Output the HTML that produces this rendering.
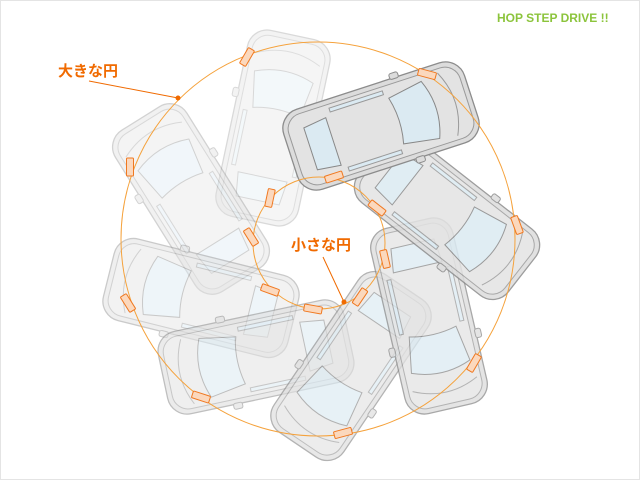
<!DOCTYPE html>
<html><head><meta charset="utf-8"><style>
html,body{margin:0;padding:0;background:#fff;}
#w{position:relative;width:640px;height:480px;overflow:hidden;box-sizing:border-box;border:1px solid #e4e4e4;}
svg{position:absolute;left:0;top:0;}
.t{position:absolute;font-family:"Liberation Sans","Noto Sans CJK JP",sans-serif;font-weight:bold;}
</style></head><body><div id="w">
<svg width="640" height="480" viewBox="0 0 640 480">
<defs>
<g id="car">
 <rect x="-42" y="-95" width="84" height="190" rx="20" fill="#dcdcdc" stroke="#8c8c8c" stroke-width="1.3"/>
 <rect x="-47" y="-32" width="6" height="9" rx="2" fill="#dcdcdc" stroke="#8c8c8c"/>
 <rect x="41" y="-32" width="6" height="9" rx="2" fill="#dcdcdc" stroke="#8c8c8c"/>
 <rect x="-37" y="-90" width="74" height="180" rx="16" fill="#e3e3e3" stroke="#9a9a9a"/>
 <path d="M-33,-70 Q0,-86 33,-70" fill="none" stroke="#9a9a9a"/>
 <path d="M-30,-52 Q0,-64 30,-52 L24,-16 Q0,-22 -24,-16 Z" fill="#dbeaf2" stroke="#888"/>
 <path d="M-25,50 L25,50 L22,74 L-22,74 Z" fill="#dbeaf2" stroke="#888"/>
 <path d="M-33,-12 L-29,-12 L-29,44 L-33,44 Z" fill="#dbeaf2" stroke="#999"/>
 <path d="M33,-12 L29,-12 L29,44 L33,44 Z" fill="#dbeaf2" stroke="#999"/>
</g>
<rect id="m" x="-3.5" y="-9" width="7" height="18" rx="1" fill="#fbd8bd" stroke="#f07820" stroke-width="1"/>
</defs>
<use href="#car" transform="translate(272,127) rotate(12)" opacity="0.32"/>
<use href="#car" transform="translate(190,198) rotate(-32)" opacity="0.38"/>
<use href="#car" transform="translate(200,297) rotate(-76)" opacity="0.45"/>
<use href="#car" transform="translate(255,356) rotate(-102)" opacity="0.55"/>
<use href="#car" transform="translate(350,365) rotate(-146)" opacity="0.65"/>
<use href="#car" transform="translate(428,315) rotate(167)" opacity="0.75"/>
<use href="#car" transform="translate(446,215) rotate(128)" opacity="0.85"/>
<use href="#car" transform="translate(380,125) rotate(72)" opacity="1"/>
<circle cx="317" cy="238" r="197" fill="none" stroke="#f5a23c" stroke-width="1"/>
<circle cx="318" cy="242" r="66" fill="none" stroke="#f5a23c" stroke-width="1"/>
<use href="#m" transform="translate(246,56) rotate(30)"/>
<use href="#m" transform="translate(269,197) rotate(12)"/>
<use href="#m" transform="translate(129,166) rotate(0)"/>
<use href="#m" transform="translate(250,236) rotate(-32)"/>
<use href="#m" transform="translate(127,302) rotate(-32)"/>
<use href="#m" transform="translate(269,289) rotate(-70)"/>
<use href="#m" transform="translate(200,396) rotate(-72)"/>
<use href="#m" transform="translate(312,308) rotate(-80)"/>
<use href="#m" transform="translate(342,432) rotate(-105)"/>
<use href="#m" transform="translate(359,296) rotate(-146)"/>
<use href="#m" transform="translate(473,362) rotate(-150)"/>
<use href="#m" transform="translate(384,258) rotate(167)"/>
<use href="#m" transform="translate(516,224) rotate(160)"/>
<use href="#m" transform="translate(376,207) rotate(128)"/>
<use href="#m" transform="translate(426,73) rotate(105)"/>
<use href="#m" transform="translate(333,176) rotate(72)"/>
<line x1="88" y1="80" x2="177" y2="97" stroke="#f06a00" stroke-width="1"/>
<circle cx="177" cy="97" r="2.5" fill="#f06a00"/>
<line x1="322" y1="256" x2="343" y2="301" stroke="#f06a00" stroke-width="1"/>
<circle cx="343" cy="301" r="2.5" fill="#f06a00"/>
</svg>
<div class="t" style="left:57px;top:59px;font-size:15px;color:#f06a00;">大きな円</div>
<div class="t" style="left:290px;top:233px;font-size:15px;color:#f06a00;">小さな円</div>
<div class="t" style="left:496px;top:10px;font-size:12px;color:#8cc43c;">HOP STEP DRIVE !!</div>
</div></body></html>
